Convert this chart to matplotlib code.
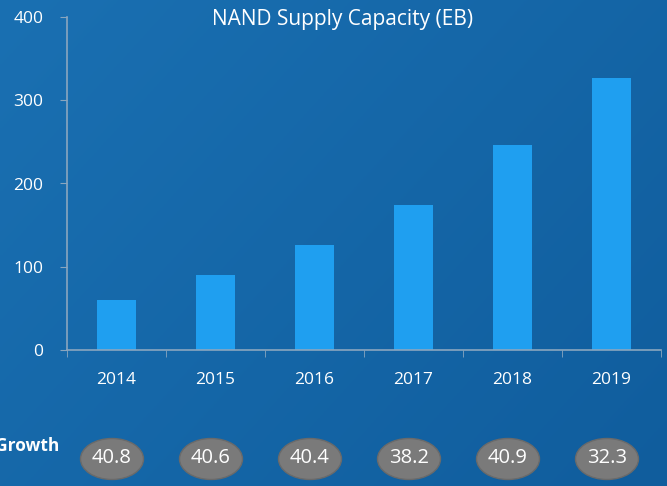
import numpy as np
import matplotlib.pyplot as plt
from matplotlib.patches import Ellipse

years = ["2014", "2015", "2016", "2017", "2018", "2019"]
capacity = [60, 90, 126, 174, 246, 327]
growth = ["40.8", "40.6", "40.4", "38.2", "40.9", "32.3"]

plt.rcParams["font.family"] = ["Open Sans", "DejaVu Sans"]

W, H = 667, 486
fig = plt.figure(figsize=(W / 100, H / 100), dpi=100)

# background gradient
bg = fig.add_axes([0, 0, 1, 1], zorder=-10)
gx = np.linspace(0, 1, 200)
gy = np.linspace(0, 1, 200)
GX, GY = np.meshgrid(gx, gy)
c1 = np.array([0x1a, 0x70, 0xb2]) / 255
c2 = np.array([0x10, 0x5d, 0x9d]) / 255
t = (0.6 * GX + 0.4 * GY)[..., None]
img = c1 * (1 - t) + c2 * t
bg.imshow(img, extent=[0, 1, 0, 1], aspect="auto")
bg.axis("off")

ax = fig.add_axes([67 / W, 1 - 350 / H, 594 / W, 333 / H])
ax.patch.set_alpha(0)
x = np.arange(len(years))
ax.bar(x, capacity, width=0.4, color="#1f9ff0")
ax.set_xlim(-0.5, len(years) - 0.5)
ax.set_ylim(0, 400)
ax.set_yticks([0, 100, 200, 300, 400])
ax.set_xticks(x)
ax.set_xticklabels(years)
ax.set_xticks(np.arange(-0.5, len(years)), minor=True)
ax.tick_params(axis="x", which="major", length=0, pad=16, labelsize=12.5, labelcolor="white")
ax.tick_params(axis="x", which="minor", length=5, color="#8aa6bf", direction="out")
ax.tick_params(axis="y", length=5, color="#8aa6bf", labelsize=12.5, labelcolor="white", pad=12)
for s in ["top", "right"]:
    ax.spines[s].set_visible(False)
for s in ["left", "bottom"]:
    ax.spines[s].set_color("#8aa6bf")
    ax.spines[s].set_linewidth(1.2)

fig.text(343 / W, 1 - 20 / H, "NAND Supply Capacity (EB)", color="white",
         fontsize=15, ha="center", va="center")

# growth row
fig.text(-5 / W, 1 - 446 / H, "Growth", color="white", fontsize=12.5,
         fontweight="bold", ha="left", va="center")
ov = fig.add_axes([0, 0, 1, 1], zorder=5)
ov.set_xlim(0, W)
ov.set_ylim(H, 0)
ov.axis("off")
for i, g in enumerate(growth):
    cx = 112 + 99 * i
    ov.add_patch(Ellipse((cx, 459), 63, 41, facecolor="#7a7a7a",
                         edgecolor="#6a6a6a", lw=1))
    ov.text(cx, 458, g, color="white", fontsize=14.5, ha="center", va="center")

fig.savefig("out.png", dpi=100)
